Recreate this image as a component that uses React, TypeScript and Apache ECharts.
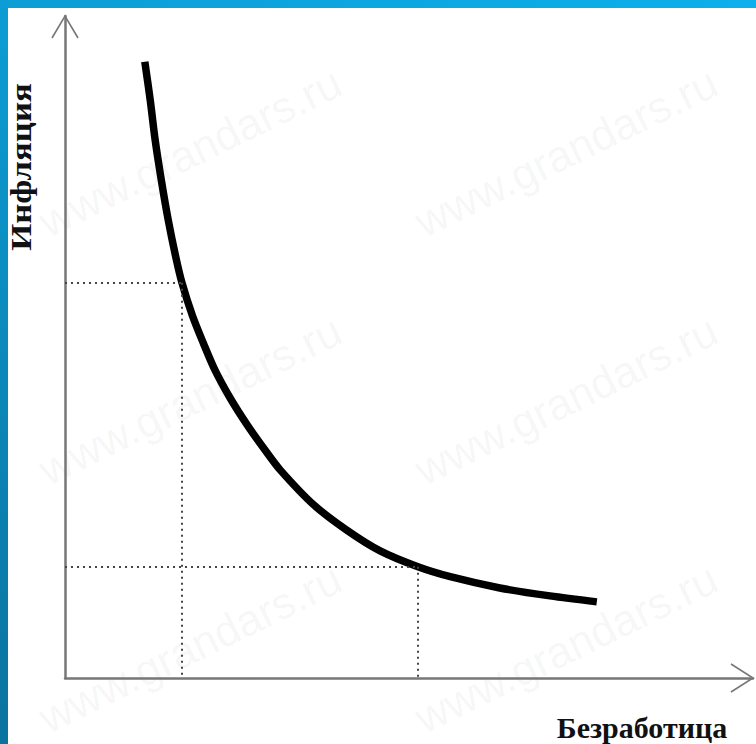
import React, { useEffect, useRef } from "react";
import * as echarts from "echarts";

// Phillips curve, axis units 0..10
const curveX = [1.16, 1.24, 1.31, 1.40, 1.50, 1.61, 1.70, 1.85, 2.01, 2.18, 2.40, 2.65, 2.91, 3.13, 3.61, 4.10, 4.58, 5.13, 5.60, 6.32, 7.05, 7.73];
const curveY = [9.31, 8.72, 8.13, 7.52, 6.92, 6.36, 5.97, 5.48, 5.06, 4.65, 4.23, 3.82, 3.44, 3.14, 2.62, 2.23, 1.92, 1.68, 1.53, 1.36, 1.24, 1.15];
// guide points (dotted projections)
const guideX = [1.70, 5.13];
const guideY = [5.97, 1.68];
const xLabel = "Безработица";
const yLabel = "Инфляция";
const watermark = "www.grandars.ru";

const G = { left: 65, top: 16, width: 688, height: 662 };

export default function App() {
  const ref = useRef<HTMLDivElement>(null);
  useEffect(() => {
    if (!ref.current) return;
    const chart = echarts.init(ref.current, null, { renderer: "svg" });
    const bottom = G.top + G.height;
    const right = G.left + G.width;
    const wmPos = [
      [190, 152], [566, 152],
      [190, 400], [566, 400],
      [190, 648], [566, 648],
    ];
    const markData: any[] = [];
    guideX.forEach((gx, i) => {
      const gy = guideY[i];
      markData.push([{ coord: [0, gy] }, { coord: [gx, gy] }]);
      markData.push([{ coord: [gx, gy] }, { coord: [gx, 0] }]);
    });
    chart.setOption({
      animation: false,
      backgroundColor: "#ffffff",
      grid: { left: G.left, top: G.top, width: G.width, height: G.height },
      xAxis: {
        type: "value",
        min: 0,
        max: 10,
        axisLine: { show: true, lineStyle: { color: "#777", width: 2.5 } },
        axisTick: { show: false },
        axisLabel: { show: false },
        splitLine: { show: false },
      },
      yAxis: {
        type: "value",
        min: 0,
        max: 10,
        axisLine: { show: true, lineStyle: { color: "#777", width: 2.5 } },
        axisTick: { show: false },
        axisLabel: { show: false },
        splitLine: { show: false },
      },
      graphic: [
        ...wmPos.map(([x, y]) => ({
          type: "text",
          x,
          y,
          rotation: (26 * Math.PI) / 180,
          z: -10,
          silent: true,
          style: {
            text: watermark,
            font: "44px 'Liberation Sans', Arial, sans-serif",
            fill: "rgba(0,0,0,0.05)",
            textAlign: "center",
            textVerticalAlign: "middle",
          },
        })),
        {
          type: "rect",
          shape: { x: 0, y: 0, width: 756, height: 8 },
          style: {
            fill: new echarts.graphic.LinearGradient(0, 0, 1, 0, [
              { offset: 0, color: "#0c9dd5" },
              { offset: 1, color: "#0cb0ec" },
            ]),
          },
        },
        {
          type: "rect",
          shape: { x: 0, y: 0, width: 8, height: 744 },
          style: {
            fill: new echarts.graphic.LinearGradient(0, 0, 0, 1, [
              { offset: 0, color: "#0c9dd5" },
              { offset: 1, color: "#0a739f" },
            ]),
          },
        },
        {
          type: "polyline",
          shape: { points: [[G.left - 13, G.top + 22], [G.left, G.top], [G.left + 13, G.top + 22]] },
          style: { stroke: "#777", lineWidth: 1.6, fill: null },
        },
        {
          type: "polyline",
          shape: { points: [[right - 22, bottom - 14], [right, bottom], [right - 22, bottom + 14]] },
          style: { stroke: "#777", lineWidth: 1.6, fill: null },
        },
        {
          type: "text",
          x: 642,
          y: 727,
          style: {
            text: xLabel,
            font: "bold 30px 'Liberation Serif', 'DejaVu Serif', serif",
            fill: "#111",
            textAlign: "center",
            textVerticalAlign: "middle",
          },
        },
        {
          type: "text",
          x: 21,
          y: 167,
          rotation: Math.PI / 2,
          scaleX: 1.16,
          style: {
            text: yLabel,
            font: "bold 30px 'Liberation Serif', 'DejaVu Serif', serif",
            fill: "#111",
            textAlign: "center",
            textVerticalAlign: "middle",
          },
        },
      ],
      series: [
        {
          type: "line",
          data: curveX.map((x, i) => [x, curveY[i]]),
          smooth: 0.3,
          symbol: "none",
          lineStyle: { color: "#000", width: 7.5 },
          silent: true,
          markLine: {
            silent: true,
            symbol: ["none", "none"],
            label: { show: false },
            lineStyle: { color: "#444", width: 2, type: [2, 4] },
            data: markData,
          },
        },
      ],
    });
    return () => chart.dispose();
  }, []);
  return (
    <div style={{ position: "fixed", left: 0, top: 0, width: 756, height: 744 }}>
      <div ref={ref} style={{ width: 756, height: 744 }} />
    </div>
  );
}
